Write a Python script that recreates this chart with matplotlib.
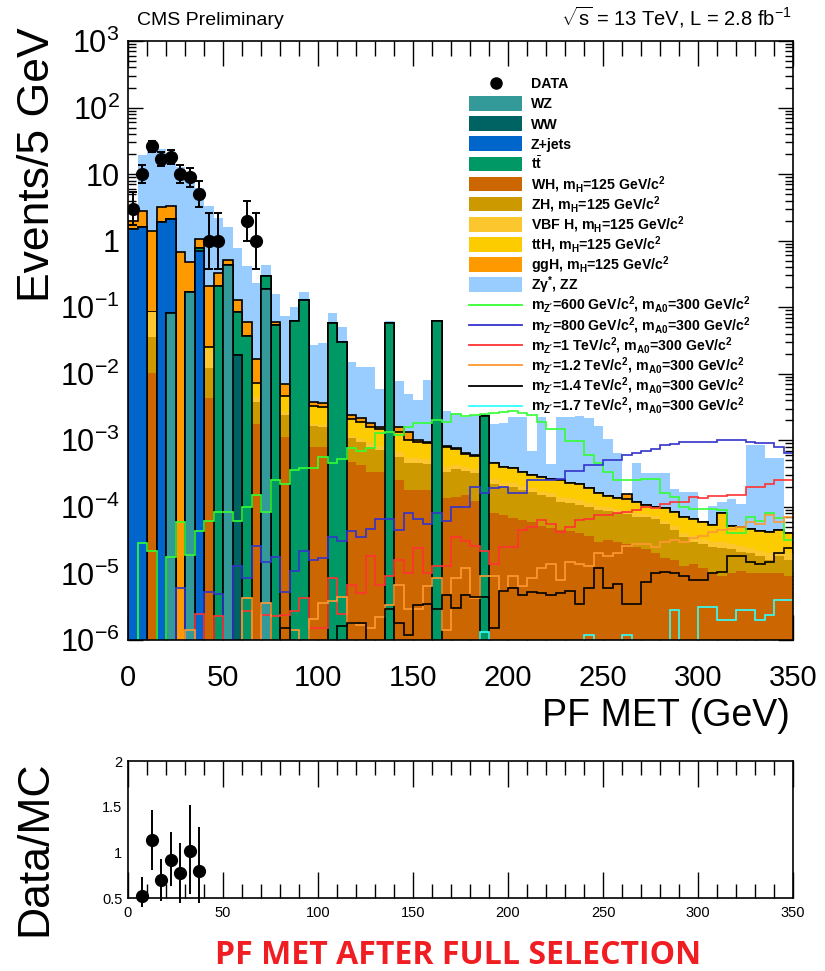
import numpy as np
import matplotlib
matplotlib.use("Agg")
import matplotlib.pyplot as plt
from matplotlib.patches import Rectangle
from matplotlib.lines import Line2D
from matplotlib.ticker import MultipleLocator, LogLocator, NullFormatter, FuncFormatter, FixedLocator

plt.rcParams['font.family'] = ['Liberation Sans', 'DejaVu Sans']
plt.rcParams['mathtext.fontset'] = 'custom'
plt.rcParams['mathtext.rm'] = 'Liberation Sans'
plt.rcParams['mathtext.it'] = 'Liberation Sans:italic'
plt.rcParams['mathtext.bf'] = 'Liberation Sans:bold'

# ---------------- data (70 bins of 5 GeV, 0-350 GeV) ----------------
bin_width = 5
n_bins = 70

WZ = [0, 0, 0, 0, 0.081, 0, 0.17, 0, 0, 0,
      0.43, 0, 0, 0, 0.186, 0, 0, 0, 0, 0] + [0] * 50
WW = [0] * 11 + [0.019] + [0] * 58
Zjets = [1.5, 1.6, 0, 1.94, 2.05, 0, 0, 0.70, 0, 0] + [0] * 60
ttbar = [0, 0, 0, 0, 0, 0, 0, 0.08, 0, 0.21,
         0, 0.066, 0.037, 0, 0.104, 0.055, 0, 0.063, 0.13, 0,
         0, 0.058, 0.03, 0, 0, 0, 0, 0.057, 0, 0,
         0, 0, 0.062, 0, 0, 0, 0, 0.0023, 0, 0] + [0] * 30
WH = [0, 0, 0.0102, 0, 0, 0, 0, 0, 0.0043, 0,
      0, 0, 0, 0.00175, 0, 0, 0.00113, 0, 0, 8e-4,
      8e-4, 0, 0, 4.7e-4, 4.2e-4, 3.3e-4, 3.3e-4, 0, 2.5e-4, 1.8e-4,
      1.8e-4, 1.8e-4, 0, 1.36e-4, 1.4e-4, 1.5e-4, 1.24e-4, 0, 8e-5, 7.5e-5,
      6.8e-5, 6.3e-5, 6.0e-5, 5.2e-5, 4.8e-5, 4.5e-5, 4.3e-5, 4.0e-5, 3.7e-5, 3.0e-5,
      3.2e-5, 3.0e-5, 2.8e-5, 2.5e-5, 2.3e-5, 2.0e-5, 1.7e-5, 1.6e-5, 1.3e-5, 1.4e-5,
      1.2e-5, 1.0e-5, 9e-6, 1.0e-5, 1.1e-5, 1.0e-5, 1.0e-5, 1.0e-5, 1.0e-5, 9e-6]
ZH = [0, 0, 0.026, 0, 0, 0, 0, 0, 0.0079, 0,
      0, 0, 0, 0.00205, 0, 0, 0.00127, 0, 0, 8.7e-4,
      8e-4, 0, 0, 6.1e-4, 5.3e-4, 4.7e-4, 3.9e-4, 0, 3.2e-4, 2.8e-4,
      2.8e-4, 2.6e-4, 0, 2.0e-4, 2.3e-4, 2.0e-4, 2.0e-4, 0, 1.44e-4, 1.25e-4,
      1.32e-4, 1.17e-4, 1.1e-4, 9.8e-5, 9.2e-5, 7.5e-5, 7.2e-5, 6.5e-5, 6.3e-5, 6.0e-5,
      5.6e-5, 5.2e-5, 5.0e-5, 4.6e-5, 4.7e-5, 4.5e-5, 3.8e-5, 2.9e-5, 2.2e-5, 1.6e-5,
      1.6e-5, 1.5e-5, 1.5e-5, 1.3e-5, 1.0e-5, 1.0e-5, 8e-6, 6e-6, 8e-6, 7e-6]
VBFH = [0, 0, 0.049, 0, 0, 0, 0, 0, 0.011, 0,
        0, 0, 0, 7e-4, 0, 0, 3e-4, 0, 0, 1e-4,
        1e-4, 0, 0, 1e-4, 1e-4, 1e-4, 1e-4, 0, 1e-4, 8e-5,
        8e-5, 8e-5, 0, 6e-5, 6e-5, 5e-5, 5e-5, 0, 3.5e-5, 3e-5,
        3e-5, 2.5e-5, 2e-5, 2e-5, 2e-5, 2e-5, 2e-5, 2e-5, 1.5e-5, 1.2e-5,
        1e-5, 1e-5, 1e-5, 1e-5, 8e-6, 7e-6, 7e-6, 7e-6, 6e-6, 6e-6,
        5e-6, 5e-6, 6e-6, 5e-6, 5e-6, 4e-6, 4e-6, 4e-6, 4e-6, 4e-6]
ttH = [0, 0, 0, 0, 0, 0, 0, 0, 0.002, 0,
       0, 0, 0, 0.0027, 0, 0, 0.002, 0, 0, 0.0015,
       0.0015, 0, 0, 9e-4, 8.5e-4, 7e-4, 6.8e-4, 0, 6.8e-4, 4.6e-4,
       4.1e-4, 3.8e-4, 0, 4.0e-4, 3.1e-4, 2.3e-4, 2.0e-4, 0, 2.0e-4, 1.7e-4,
       1.5e-4, 1.35e-4, 1.1e-4, 1.1e-4, 1.0e-4, 1.1e-4, 9.5e-5, 9.5e-5, 7.5e-5, 5.8e-5,
       4.7e-5, 4.3e-5, 4.2e-5, 3.9e-5, 2.7e-5, 2.8e-5, 3.3e-5, 3.2e-5, 2.9e-5, 2.9e-5,
       2.7e-5, 2.4e-5, 5.0e-5, 2.4e-5, 2.4e-5, 2.2e-5, 2.2e-5, 2.2e-5, 2.3e-5, 2.0e-5]
ggH = [0.45, 1.2, 1.29, 1.3, 1.17, 0.68, 0.31, 0.29, 0.185, 0.12,
       0.08, 0.045, 0.023, 0.0094, 0, 0.005, 0.0023, 0, 0, 5e-4,
       4e-4, 0, 0, 3e-4, 3e-4, 2e-4, 1e-4, 0, 2.5e-4, 3.5e-4,
       5e-5, 5e-5, 0, 3e-5, 2e-5, 2e-5, 2e-5, 0, 0, 0,
       0, 0, 0, 0, 0, 0, 0, 0, 0, 0,
       0, 0, 2.5e-5, 0, 0, 0, 0, 0, 0, 0,
       0, 0, 0, 0, 0, 0, 0, 0, 0, 0]
ZgZZ = [0, 16.4, 21.6, 20.7, 16.3, 12.3, 8.3, 5.1, 3.09, 1.84,
        1.08, 0.64, 0.36, 0.213, 0.14, 0.1, 0.067, 0.037, 0.04, 0.023,
        0.025, 0.023, 0.02, 0.0128, 0.0106, 0.011, 0.0044, 0.006, 0.0062, 0.0037,
        0.0031, 0.0071, 0.003, 0.0019, 0.0018, 0.0016, 0.0018, 0.0002, 0.0013, 0.0014,
        0.0019, 0.0019, 0.0004, 0.0020, 0.00018, 0.0020, 0.0020, 0.0021, 0.0020, 0.0015,
        0.0009, 0.0005, 0, 0.00034, 0.00022, 0.00022, 0.00023, 0.0001, 0.0001, 0.0001,
        0, 0.00005, 0.00004, 0.00008, 0.00006, 0.0008, 0.0008, 0.0005, 0.0005, 0]

sig600 = [0, 2.9e-5, 2.15e-5, 0, 1.77e-5, 5.9e-5, 1.9e-5, 4.3e-5, 6.2e-5, 8.3e-5,
          8.5e-5, 6.2e-5, 1.0e-4, 1.5e-4, 8.5e-5, 2.5e-4, 2.2e-4, 3.6e-4, 3.9e-4, 3.8e-4,
          5.7e-4, 4.6e-4, 5.3e-4, 7.6e-4, 6.9e-4, 7.6e-4, 1.3e-3, 1.35e-3, 1.2e-3, 1.6e-3,
          1.8e-3, 1.8e-3, 2.0e-3, 1.9e-3, 2.5e-3, 2.3e-3, 2.4e-3, 2.5e-3, 2.6e-3, 2.7e-3,
          2.8e-3, 2.6e-3, 2.4e-3, 1.9e-3, 1.5e-3, 1.5e-3, 9.7e-4, 9.7e-4, 6.0e-4, 4.5e-4,
          3.4e-4, 2.5e-4, 2.5e-4, 2.5e-4, 2.6e-4, 2.6e-4, 1.6e-4, 1.4e-4, 1.0e-4, 9.4e-5,
          9.4e-5, 9.4e-5, 9.0e-5, 4.0e-5, 4.0e-5, 7.0e-5, 6.2e-5, 8.0e-5, 6.7e-5, 3.2e-5]
sig800 = [0, 0, 0, 0, 0, 6.1e-6, 0, 0, 5.3e-6, 4.9e-6,
          0, 1.3e-5, 8.6e-6, 2.6e-5, 1.5e-5, 1.77e-5, 5.3e-6, 1.1e-5, 2.2e-5, 1.6e-5,
          1.7e-5, 3.5e-5, 3.1e-5, 4.3e-5, 3.5e-5, 4.7e-5, 6.5e-5, 6.5e-5, 4.5e-5, 8.1e-5,
          6.5e-5, 5.6e-5, 8.1e-5, 6.1e-5, 1.0e-4, 1.0e-4, 2.0e-4, 1.6e-4, 1.9e-4, 2.0e-4,
          1.6e-4, 1.6e-4, 2.5e-4, 2.5e-4, 2.5e-4, 2.6e-4, 3.5e-4, 3.5e-4, 4.2e-4, 4.2e-4,
          5.0e-4, 5.0e-4, 6.0e-4, 6.5e-4, 7.0e-4, 7.5e-4, 8.5e-4, 8.8e-4, 9.4e-4, 9.4e-4,
          9.6e-4, 9.6e-4, 1.0e-3, 1.0e-3, 1.0e-3, 9.5e-4, 9.2e-4, 9.0e-4, 7.9e-4, 6.5e-4]
sig1000 = [0, 0, 0, 0, 0, 0, 0, 2.5e-6, 0, 2.3e-6,
           0, 0, 2.7e-6, 0, 2.4e-6, 2.3e-6, 2.4e-6, 2.7e-6, 4.3e-6, 1.5e-6,
           1.5e-6, 8.6e-6, 2.5e-6, 6.8e-6, 5.1e-6, 1.8e-5, 6.6e-6, 9.1e-6, 1.6e-5, 1.0e-5,
           2.4e-5, 1.0e-5, 1.3e-5, 1.3e-5, 3.5e-5, 3.1e-5, 2.6e-5, 2.2e-5, 1.4e-5, 2.5e-5,
           2.5e-5, 4.5e-5, 5.0e-5, 6.3e-5, 5.5e-5, 4.2e-5, 5.0e-5, 6.3e-5, 6.5e-5, 7.5e-5,
           7.5e-5, 8.0e-5, 8.5e-5, 9.0e-5, 1.0e-4, 9.5e-5, 1.1e-4, 1.2e-4, 1.2e-4, 1.4e-4,
           1.35e-4, 1.45e-4, 1.45e-4, 1.5e-4, 1.5e-4, 2.0e-4, 2.0e-4, 2.2e-4, 2.5e-4, 2.5e-4]
sig1200 = [0, 0, 0, 0, 0, 0, 1.4e-6, 0, 0, 0,
           0, 0, 4.3e-6, 0, 3.6e-6, 0, 0, 1.4e-6, 0, 2.1e-6,
           3.6e-6, 3.9e-6, 4.4e-6, 1.8e-6, 1.7e-6, 1.5e-6, 2.2e-6, 3.4e-6, 6.8e-6, 2.9e-6,
           2.9e-6, 6.4e-6, 8.6e-6, 1.4e-6, 8.4e-6, 1.2e-5, 4.3e-6, 9.1e-6, 9e-6, 5.5e-6,
           9e-6, 6.5e-6, 8.4e-6, 1.2e-5, 1.4e-5, 8e-6, 1.5e-5, 1.4e-5, 1.3e-5, 2.0e-5,
           1.8e-5, 2.0e-5, 2.6e-5, 2.8e-5, 2.8e-5, 2.5e-5, 3.0e-5, 3.2e-5, 3.0e-5, 3.4e-5,
           3.6e-5, 4.2e-5, 4.5e-5, 4.6e-5, 5.0e-5, 6.0e-5, 5.5e-5, 7.5e-5, 6.0e-5, 7.0e-5]
sig1400 = [0] * 16 + [1.5e-6, 0, 0, 0,
           0, 0, 1.6e-6, 1.8e-6, 1.8e-6, 0, 0, 2.9e-6, 1.8e-6, 1.2e-6,
           3.4e-6, 3.5e-6, 2.9e-6, 4.7e-6, 3.0e-6, 4.7e-6, 4.5e-6, 4.4e-6, 1.5e-6, 5.5e-6,
           6e-6, 4.7e-6, 5.2e-6, 5e-6, 4.7e-6, 5.0e-6, 5.5e-6, 3.5e-6, 6e-6, 1.2e-5,
           6e-6, 7e-6, 3.5e-6, 3.5e-6, 7.5e-6, 1.0e-5, 1.05e-5, 1.0e-5, 9e-6, 8e-6,
           8e-6, 1.0e-5, 1.05e-5, 1.8e-5, 1.8e-5, 1.5e-5, 1.4e-5, 1.5e-5, 2.0e-5, 2.4e-5]
sig1700 = [0] * 37 + [1.3e-6] + [0] * 10 + [1.17e-6, 0, 0, 0, 1.17e-6, 0, 0, 0, 0, 2.8e-6, 0, 0,
           3.1e-6, 3.1e-6, 2.0e-6, 2.0e-6, 2.8e-6, 2.8e-6, 2.0e-6, 2.4e-6, 4.0e-6, 4.0e-6]

data_bins = [0, 1, 2, 3, 4, 5, 6, 7, 8, 9, 12, 13]
data_counts = [3, 10, 26, 17, 18, 10, 9, 5, 1, 1, 2, 1]
data_err_lo = [1.30, 2.70, 4.62, 3.65, 3.77, 2.70, 2.54, 1.79, 0.62, 0.62, 1.0, 0.62]
data_err_hi = [2.30, 3.70, 5.62, 4.65, 4.77, 3.70, 3.54, 2.79, 1.62, 1.62, 2.0, 1.62]

ratio_bins = [1, 2, 3, 4, 5, 6, 7]
ratio_vals = [0.52, 1.13, 0.70, 0.92, 0.77, 1.02, 0.80]
ratio_up = [0.73, 1.46, 0.93, 1.22, 1.10, 1.52, 1.28]
ratio_dn = [0.40, 0.81, 0.47, 0.63, 0.45, 0.54, 0.44]

bkg_names = ['WZ', 'WW', 'Z+jets', r't$\bar{\mathbf{t}}$',
             r'WH, m$_{\mathbf{H}}$=125 GeV/c$^{\mathbf{2}}$',
             r'ZH, m$_{\mathbf{H}}$=125 GeV/c$^{\mathbf{2}}$',
             r'VBF H, m$_{\mathbf{H}}$=125 GeV/c$^{\mathbf{2}}$',
             r'ttH, m$_{\mathbf{H}}$=125 GeV/c$^{\mathbf{2}}$',
             r'ggH, m$_{\mathbf{H}}$=125 GeV/c$^{\mathbf{2}}$',
             r'Zγ$^{\mathbf{*}}$, ZZ']
bkg_colors = ['#339999', '#006363', '#0066cc', '#009966', '#cc6600',
              '#cc9900', '#fcc62e', '#fccb00', '#ff9900', '#99ccff']
# which stacked components are drawn with a black outline
bkg_outline = [True, True, True, True, False, False, False, True, True, False]
sig_masses = ['600 GeV', '800 GeV', '1 TeV', '1.2 TeV', '1.4 TeV', '1.7 TeV']
sig_names = [r"m$_{\mathbf{Z'}}$=" + m + r"/c$^{\mathbf{2}}$, m$_{\mathbf{A0}}$=300 GeV/c$^{\mathbf{2}}$"
             for m in sig_masses]
sig_colors = ['#33ff33', '#3333cc', '#ff3333', '#ff9933', '#000000', '#33ffff']

# ---------------- figure ----------------
W, H = 825, 971
fig = plt.figure(figsize=(W / 100, H / 100), dpi=100)

def fx(px):
    return px / W

def fy(py):
    return 1 - py / H

ax = fig.add_axes([fx(128), fy(640), (793 - 128) / W, (640 - 41) / H])
axr = fig.add_axes([fx(128), fy(898), (793 - 128) / W, (898 - 761) / H])

edges = np.arange(n_bins + 1) * bin_width
floor = 1e-9
bkgs = [WZ, WW, Zjets, ttbar, WH, ZH, VBFH, ttH, ggH, ZgZZ]
cum = np.cumsum(np.array(bkgs, dtype=float), axis=0)
for k in range(len(bkgs) - 1, -1, -1):
    vals = np.maximum(cum[k], floor)
    ec = 'black' if bkg_outline[k] else 'none'
    ax.stairs(vals, edges, baseline=floor, fill=True, facecolor=bkg_colors[k],
              edgecolor=ec, linewidth=1.2, zorder=2)

sigs = [sig600, sig800, sig1000, sig1200, sig1400, sig1700]
for s, c in zip(sigs, sig_colors):
    ax.stairs(np.maximum(np.array(s, dtype=float), floor), edges, baseline=None,
              color=c, linewidth=1.2, zorder=3)

dx = (np.array(data_bins) + 0.5) * bin_width
ax.errorbar(dx, data_counts, yerr=[data_err_lo, data_err_hi], fmt='o', color='black',
            ms=8.5, capsize=2.6, elinewidth=1.4, capthick=1.4, zorder=5)

ax.set_xlim(0, 350)
ax.set_yscale('log')
ax.set_ylim(1e-6, 1e3)

def yfmt(v, pos):
    e = int(round(np.log10(v)))
    if e == 0:
        return '1'
    if e == 1:
        return '10'
    return r'$10^{%d}$' % e

ax.yaxis.set_major_locator(LogLocator(base=10, numticks=20))
ax.yaxis.set_minor_locator(LogLocator(base=10, subs=np.arange(2, 10), numticks=20))
ax.yaxis.set_major_formatter(FuncFormatter(yfmt))
ax.yaxis.set_minor_formatter(NullFormatter())
ax.xaxis.set_major_locator(MultipleLocator(50))
ax.xaxis.set_minor_locator(MultipleLocator(10))
ax.tick_params(axis='both', which='both', direction='in', top=True, right=True, width=1.0)
ax.tick_params(axis='x', which='major', length=18, labelsize=21, pad=17)
ax.tick_params(axis='x', which='minor', length=11)
ax.tick_params(axis='y', which='major', length=10.5, labelsize=22, pad=6)
ax.tick_params(axis='y', which='minor', length=5.5)
for sp in ax.spines.values():
    sp.set_linewidth(1.2)
    sp.set_zorder(6)

# ratio panel
rx = (np.array(ratio_bins) + 0.5) * bin_width
rv = np.array(ratio_vals)
axr.errorbar(rx, rv, yerr=[rv - np.array(ratio_dn), np.array(ratio_up) - rv], fmt='o',
             color='black', ms=8.5, elinewidth=1.4, capsize=0, zorder=5, clip_on=False)
axr.set_xlim(0, 350)
axr.set_ylim(0.5, 2)
axr.yaxis.set_major_locator(FixedLocator([0.5, 1, 1.5, 2]))
axr.yaxis.set_major_formatter(FuncFormatter(lambda v, p: ('%g' % v)))
axr.xaxis.set_major_locator(MultipleLocator(50))
axr.xaxis.set_minor_locator(MultipleLocator(10))
axr.tick_params(axis='both', which='both', direction='in', top=True, right=True, width=1.0)
axr.tick_params(axis='x', which='major', length=19, labelsize=10.5, pad=6)
axr.tick_params(axis='x', which='minor', length=10)
axr.tick_params(axis='y', which='major', length=0, labelsize=10.5, pad=4)
for sp in axr.spines.values():
    sp.set_linewidth(1.2)

# axis titles and texts
fig.text(fx(38), fy(27), 'Events/5 GeV', rotation=90, ha='center', va='top', fontsize=32)
fig.text(fx(790), fy(716), 'PF MET (GeV)', ha='right', va='center', fontsize=27)
fig.text(fx(35), fy(848), 'Data/MC', rotation=90, ha='center', va='center', fontsize=32)
fig.text(fx(137), fy(25), 'CMS Preliminary', ha='left', va='baseline', fontsize=14)
fig.text(fx(792), fy(25), r'$\sqrt{\mathrm{s}}$ = 13 TeV, L = 2.8 fb$^{-1}$', ha='right',
         va='baseline', fontsize=14.5)
fig.text(fx(458), fy(955), 'PF MET AFTER FULL SELECTION', ha='center', va='center',
         fontsize=23, fontweight='bold', color='#f01e23', family=['Open Sans', 'DejaVu Sans'])

# legend (drawn by hand)
row0, drow = 83.3, 20.15
rx0, rx1 = 469.3, 521.7
tx = 530.7

def leg_text(i, label):
    fig.text(fx(tx), fy(row0 + drow * i + 5), label, ha='left', va='baseline',
             fontsize=10.2, fontweight='bold')

fig.add_artist(Line2D([fx((rx0 + rx1) / 2)], [fy(row0)], marker='o', color='black',
                      ms=8, transform=fig.transFigure))
leg_text(0, 'DATA')
for k in range(len(bkg_names)):
    yc = row0 + drow * (k + 1)
    fig.add_artist(Rectangle((fx(rx0), fy(yc + 7.3)), (rx1 - rx0) / W, 14.6 / H,
                             facecolor=bkg_colors[k], edgecolor='none',
                             transform=fig.transFigure))
    leg_text(k + 1, bkg_names[k])
for j in range(len(sig_names)):
    i = len(bkg_names) + 1 + j
    yc = row0 + drow * i
    fig.add_artist(Line2D([fx(rx0), fx(rx1)], [fy(yc), fy(yc)], color=sig_colors[j],
                          lw=1.3, transform=fig.transFigure))
    leg_text(i, sig_names[j])

fig.savefig('out.png', dpi=100)
